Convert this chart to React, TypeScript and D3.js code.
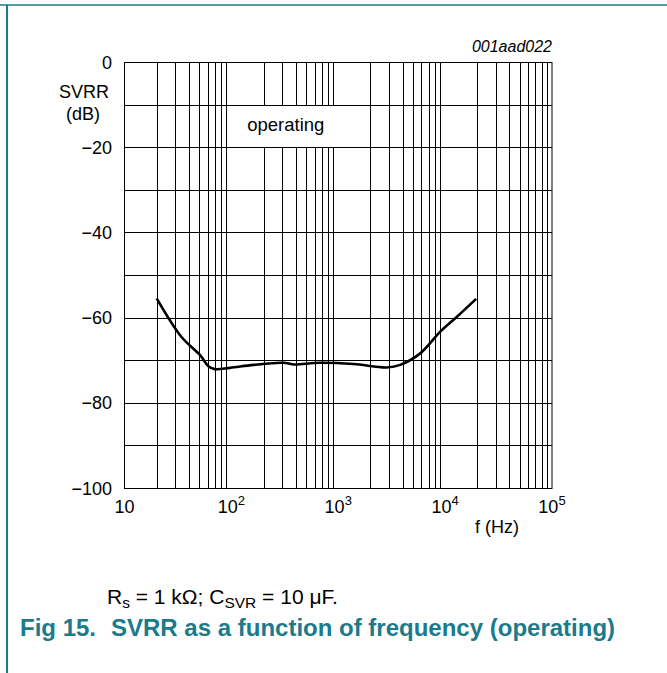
import React, { useEffect, useRef } from 'react';
import * as d3 from 'd3';

// curve
const freqHz = [20, 34, 51, 61, 70, 97, 161, 307, 380, 676, 1390, 2855, 3800, 5850, 9010, 12900, 19500];
const svrrDb = [-55.5, -64.5, -68.8, -71.4, -72.1, -71.8, -71.1, -70.6, -71.0, -70.6, -70.9, -71.7, -71.1, -68.4, -63.3, -59.8, -55.6];

const yTicks = [0, -20, -40, -60, -80, -100];
const xDecades = [1, 2, 3, 4, 5];

const TEAL = '#1b7a8c';

const App: React.FC = () => {
  const svgRef = useRef<SVGSVGElement>(null);

  useEffect(() => {
    if (!svgRef.current) return;
    const svg = d3.select(svgRef.current);
    svg.selectAll('*').remove();

    const left = 124.5, right = 552, top = 62, bottom = 488;
    const x = d3.scaleLog().domain([10, 1e5]).range([left, right]);
    const y = d3.scaleLinear().domain([-100, 0]).range([bottom, top]);
    const font = 'Liberation Sans, Arial, sans-serif';
    const fs = 18;

    // page frame
    svg.append('line').attr('x1', 0).attr('x2', 667).attr('y1', 5).attr('y2', 5)
      .attr('stroke', TEAL).attr('stroke-width', 1.5);
    svg.append('line').attr('x1', 7).attr('x2', 7).attr('y1', 5).attr('y2', 673)
      .attr('stroke', TEAL).attr('stroke-width', 2);

    const g = svg.append('g');

    // vertical grid
    const vLines: number[] = [];
    for (let d = 1; d < 5; d++) {
      for (let m = 2; m <= 9; m++) vLines.push(m * Math.pow(10, d));
    }
    g.selectAll('.vgrid').data(vLines).enter().append('line')
      .attr('x1', d => Math.round(x(d)) + 0.5).attr('x2', d => Math.round(x(d)) + 0.5)
      .attr('y1', top).attr('y2', bottom)
      .attr('stroke', '#000').attr('stroke-width', 1);

    // horizontal grid every 10 dB
    g.selectAll('.hgrid').data(d3.range(-90, 0, 10)).enter().append('line')
      .attr('x1', left).attr('x2', right)
      .attr('y1', d => Math.round(y(d)) + 0.5).attr('y2', d => Math.round(y(d)) + 0.5)
      .attr('stroke', '#000').attr('stroke-width', 1);

    // label box, 100 Hz..1 kHz, -10..-20 dB
    g.append('rect')
      .attr('x', Math.round(x(100)) + 1).attr('y', Math.round(y(-10)) + 1)
      .attr('width', Math.round(x(1000)) - Math.round(x(100)) - 1)
      .attr('height', Math.round(y(-20)) - Math.round(y(-10)) - 1)
      .attr('fill', '#fff');
    g.append('text').attr('x', (x(100) + x(1000)) / 2 + 1).attr('y', y(-15) + 5.5)
      .attr('text-anchor', 'middle').attr('font-family', font).attr('font-size', 18.5)
      .text('operating');

    // frame
    g.append('rect').attr('x', left).attr('y', top + 0.5)
      .attr('width', right - left).attr('height', bottom - top)
      .attr('fill', 'none').attr('stroke', '#000').attr('stroke-width', 1);

    // curve
    const line = d3.line<number>()
      .x((_, i) => x(freqHz[i]))
      .y(d => y(d))
      .curve(d3.curveCatmullRom);
    g.append('path').datum(svrrDb).attr('d', line)
      .attr('fill', 'none').attr('stroke', '#000').attr('stroke-width', 2.6)
      .attr('stroke-linejoin', 'round');

    // y tick labels
    g.selectAll('.ylab').data(yTicks).enter().append('text')
      .attr('x', 112).attr('y', d => y(d) + 6.5)
      .attr('text-anchor', 'end').attr('font-family', font).attr('font-size', fs)
      .text(d => (d < 0 ? '\u2212' + Math.abs(d) : String(d)));

    g.append('text').attr('x', 84).attr('y', 98).attr('text-anchor', 'middle')
      .attr('font-family', font).attr('font-size', fs).text('SVRR');
    g.append('text').attr('x', 83).attr('y', 120).attr('text-anchor', 'middle')
      .attr('font-family', font).attr('font-size', fs).text('(dB)');

    // x tick labels
    xDecades.forEach(e => {
      const t = g.append('text').attr('x', x(Math.pow(10, e))).attr('y', 513)
        .attr('text-anchor', 'middle').attr('font-family', font).attr('font-size', fs);
      if (e === 1) {
        t.text('10');
      } else {
        t.append('tspan').text('10');
        t.append('tspan').attr('dy', -8).attr('font-size', 13).text(String(e));
      }
    });
    g.append('text').attr('x', 497).attr('y', 533).attr('text-anchor', 'middle')
      .attr('font-family', font).attr('font-size', fs).text('f (Hz)');

    g.append('text').attr('x', right).attr('y', 52).attr('text-anchor', 'end')
      .attr('font-family', font).attr('font-size', 16).attr('font-style', 'italic')
      .text('001aad022');

    // conditions
    const c = svg.append('text').attr('x', 107).attr('y', 604)
      .attr('font-family', font).attr('font-size', 21);
    c.append('tspan').text('R');
    c.append('tspan').attr('font-size', 15.5).attr('dy', 4).text('s');
    c.append('tspan').attr('dy', -4).text(' = 1 k\u03A9; C');
    c.append('tspan').attr('font-size', 15.5).attr('dy', 4).text('SVR');
    c.append('tspan').attr('dy', -4).text(' = 10 \u03BCF.');

    // figure title
    svg.append('text').attr('x', 20).attr('y', 636)
      .attr('font-family', font).attr('font-size', 24).attr('font-weight', 'bold')
      .attr('fill', TEAL).text('Fig 15.');
    svg.append('text').attr('x', 111).attr('y', 636)
      .attr('font-family', font).attr('font-size', 24).attr('font-weight', 'bold')
      .attr('fill', TEAL).text('SVRR as a function of frequency (operating)');
  }, []);

  return (
    <div style={{ position: 'absolute', left: 0, top: 0, background: '#fff' }}>
      <svg ref={svgRef} width={667} height={673} style={{ display: 'block' }} />
    </div>
  );
};

export default App;
